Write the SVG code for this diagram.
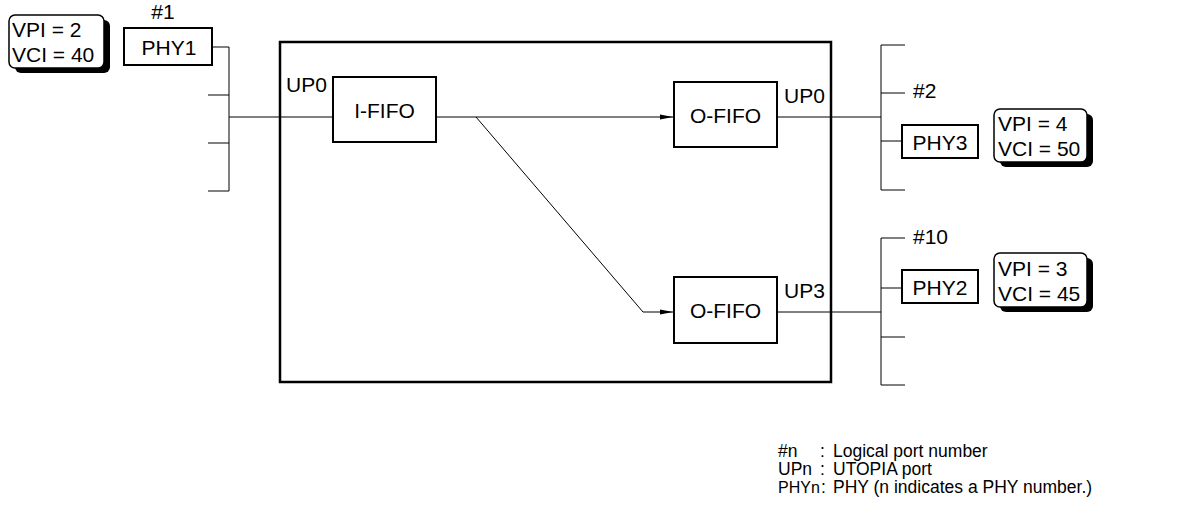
<svg xmlns="http://www.w3.org/2000/svg" width="1189" height="518" viewBox="0 0 1189 518">
<style>
text{font-family:"Liberation Sans",Arial,sans-serif;fill:#000}
.lbl{font-size:21px}
.leg{font-size:17.5px}
.box{fill:#fff;stroke:#000;stroke-width:2}
.ln{fill:none;stroke:#000;stroke-width:1}
.vb{fill:#fff;stroke:#000;stroke-width:1.5}
.sh{fill:#000}
</style>
<defs>
<marker id="ar" markerWidth="14" markerHeight="8" refX="13" refY="4" orient="auto" markerUnits="userSpaceOnUse">
<path d="M0,1.5 L13,4 L0,6.5 Z" fill="#000"/>
</marker>
</defs>
<g id="connectors">
<path class="ln" d="M229,47 V191 M212,47 H229 M208,95 H229 M208,143 H229 M208,191 H229 M229,117 H333"/>
<path class="ln" d="M436,117 H673" marker-end="url(#ar)"/>
<path class="ln" d="M476,117 L643,312 H673" marker-end="url(#ar)"/>
<path class="ln" d="M777,117 H881 M881,45 V190 M881,45 H905 M881,93 H905 M881,141 H902 M881,190 H905"/>
<path class="ln" d="M777,312 H881 M881,238 V385 M881,238 H905 M881,288 H902 M881,337 H905 M881,385 H905"/>
</g>
<g id="main-box"><rect x="280" y="42" width="551" height="340" fill="none" stroke="#000" stroke-width="2.5"/></g>
<g id="vpi1">
<rect class="sh" x="15" y="20" width="95" height="53" rx="6"/>
<rect class="vb" x="9" y="15" width="95" height="53" rx="6"/>
<text class="lbl" x="12" y="37">VPI = 2</text>
<text class="lbl" x="12" y="62">VCI = 40</text>
</g>
<g id="phy1">
<rect class="box" x="124" y="28" width="88" height="37"/>
<text class="lbl" x="169" y="55" text-anchor="middle">PHY1</text>
<text class="lbl" x="163" y="19" text-anchor="middle">#1</text>
</g>
<g id="ififo">
<rect class="box" x="333" y="77" width="103" height="65"/>
<text class="lbl" x="384.5" y="118" text-anchor="middle">I-FIFO</text>
<text class="lbl" x="286" y="92">UP0</text>
</g>
<g id="ofifo1">
<rect class="box" x="674" y="82" width="103" height="65"/>
<text class="lbl" x="725.5" y="123" text-anchor="middle">O-FIFO</text>
<text class="lbl" x="784" y="103">UP0</text>
</g>
<g id="ofifo2">
<rect class="box" x="674" y="277" width="103" height="66"/>
<text class="lbl" x="725.5" y="318" text-anchor="middle">O-FIFO</text>
<text class="lbl" x="784" y="298">UP3</text>
</g>
<g id="phy3">
<rect class="box" x="902" y="125" width="76" height="33"/>
<text class="lbl" x="940" y="150" text-anchor="middle">PHY3</text>
<text class="lbl" x="913" y="98">#2</text>
</g>
<g id="vpi3">
<rect class="sh" x="1000" y="114" width="93" height="53" rx="6"/>
<rect class="vb" x="994" y="109" width="93" height="53" rx="6"/>
<text class="lbl" x="998" y="131">VPI = 4</text>
<text class="lbl" x="998" y="156">VCI = 50</text>
</g>
<g id="phy2">
<rect class="box" x="902" y="270" width="76" height="33"/>
<text class="lbl" x="940" y="295" text-anchor="middle">PHY2</text>
<text class="lbl" x="913" y="244">#10</text>
</g>
<g id="vpi2">
<rect class="sh" x="1000" y="258" width="93" height="54" rx="6"/>
<rect class="vb" x="994" y="253" width="93" height="54" rx="6"/>
<text class="lbl" x="998" y="276">VPI = 3</text>
<text class="lbl" x="998" y="301">VCI = 45</text>
</g>
<g id="legend">
<text class="leg" x="778" y="457">#n<tspan x="820">:</tspan><tspan x="833">Logical port number</tspan></text>
<text class="leg" x="778" y="475">UPn<tspan x="820">:</tspan><tspan x="833">UTOPIA port</tspan></text>
<text class="leg" x="778" y="493"><tspan font-size="16">PHYn</tspan><tspan x="821">:</tspan><tspan x="833">PHY (n indicates a PHY number.)</tspan></text>
</g>
</svg>
